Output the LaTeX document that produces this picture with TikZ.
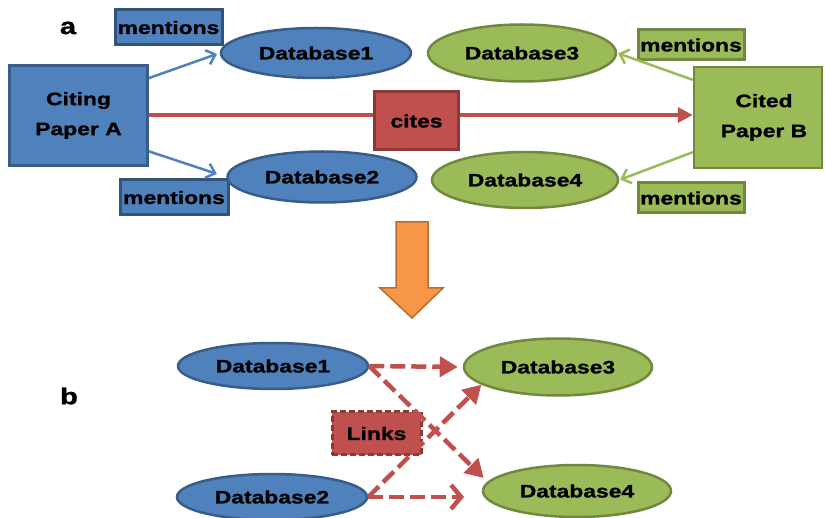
\documentclass[tikz,border=0pt]{standalone}
\usepackage{fontspec}
\newfontfamily\lbl{Liberation Sans}[FakeStretch=1.27,FakeBold=1.2]
\usetikzlibrary{arrows.meta,shapes.geometric,calc}
\definecolor{bfill}{HTML}{4F81BD}
\definecolor{bdraw}{HTML}{385D8A}
\definecolor{gfill}{HTML}{9BBB59}
\definecolor{gdraw}{HTML}{71893F}
\definecolor{rfill}{HTML}{C0504D}
\definecolor{rdraw}{HTML}{8C3836}
\definecolor{ofill}{HTML}{F79646}
\definecolor{odraw}{HTML}{B66D31}
\tikzset{
  txt/.style={font={\lbl\bfseries\fontsize{18}{30}\selectfont}, text=black, inner sep=0pt},
  bluebox/.style={txt, rectangle, fill=bfill, draw=bdraw, line width=2.5pt, align=center},
  greenbox/.style={txt, rectangle, fill=gfill, draw=gdraw, line width=2.5pt, align=center},
  bment/.style={bluebox, line width=3pt, draw=bdraw!90!black},
  gment/.style={greenbox, line width=3pt},
  bell/.style={txt, ellipse, fill=bfill, draw=bdraw, line width=2.5pt},
  gell/.style={txt, ellipse, fill=gfill, draw=gdraw, line width=2.5pt},
  redbox/.style={txt, rectangle, fill=rfill, draw=rdraw, line width=3pt},
  bigletter/.style={font={\lbl\bfseries\fontsize{23}{26}\selectfont}, inner sep=0pt},
  barr/.style={draw=bfill, line width=2.5pt, -{Straight Barb[length=8pt,width=15pt]}},
  garr/.style={draw=gfill, line width=2.5pt, -{Straight Barb[length=8pt,width=15pt]}},
  rarr/.style={draw=rfill, line width=3.5pt, -{Triangle[length=15pt,width=15pt]}},
  dasharr/.style={draw=rfill, line width=4.5pt, dash pattern=on 15pt off 6pt, -{Triangle[length=18pt,width=20pt]}},
  dashopen/.style={draw=rfill, line width=4.5pt, dash pattern=on 15pt off 6pt, -{Straight Barb[length=10pt,width=24pt]}}
}
\begin{document}
\begin{tikzpicture}[x=1pt,y=-1pt]
\useasboundingbox (0,0) rectangle (825,518);
% ---------- part a ----------
\node[bigletter] (la) at (68,28) {a};
\node[bluebox, minimum width=138pt, minimum height=100pt] (cit) at (78.5,115.5) {Citing\\Paper A};
\node[greenbox, minimum width=128pt, minimum height=101pt] (cited) at (758,117.5) {\hspace{12pt}Cited\\\hspace{12pt}Paper B};
\node[bment, minimum width=107pt, minimum height=35pt] (m1) at (168.5,27.5) {mentions};
\node[bment, minimum width=108pt, minimum height=35pt] (m2) at (174,197.5) {mentions};
\node[gment, minimum width=106pt, minimum height=30pt] (m3) at (691,45) {mentions};
\node[gment, minimum width=106pt, minimum height=30pt] (m4) at (691,198) {mentions};
\node[bell, minimum width=190pt, minimum height=50pt] (db1) at (316,53) {Database1};
\node[bell, minimum width=189pt, minimum height=51pt] (db2) at (322,177) {Database2};
\node[gell, minimum width=188pt, minimum height=57pt] (db3) at (522,53) {Database3};
\node[gell, minimum width=186pt, minimum height=56pt] (db4) at (525,180) {Database4};
\draw[rarr] (cit.east |- 0,115) -- (cited.west |- 0,115);
\node[redbox, minimum width=84pt, minimum height=58pt] (cites) at (416.5,121) {cites};
\draw[barr, shorten >=3pt] (cit.28) -- (db1.west);
\draw[barr, shorten >=10pt] (cit.-27) -- (db2.west);
\draw[garr, shorten >=1pt] (cited.150) -- (db3.east);
\draw[garr, shorten >=1pt] (cited.208) -- (db4.east);
% ---------- big arrow ----------
\draw[fill=ofill, draw=odraw, line width=1.5pt, line join=miter]
  (396,222) -- (428,222) -- (428,288) -- (443,288) -- (412,318) -- (380,288) -- (396,288) -- cycle;
% ---------- part b ----------
\node[bigletter] (lb) at (69,396) {b};
\node[bell, minimum width=190pt, minimum height=46pt] (bd1) at (273,366) {Database1};
\node[gell, minimum width=188pt, minimum height=57pt] (bd3) at (558,367) {Database3};
\node[bell, minimum width=190pt, minimum height=46pt] (bd2) at (272,497) {Database2};
\node[gell, minimum width=188pt, minimum height=52pt] (bd4) at (577,491) {Database4};
\node[redbox, draw=rdraw, line width=3pt, dash pattern=on 6pt off 3pt, minimum width=89pt, minimum height=43pt] (links) at (376.5,433.5) {Links};
\coordinate (open) at (464,497);
\draw[dasharr, shorten >=5pt] (bd1.east) -- (bd3.west);
\draw[dasharr] (bd1.east) -- ($(bd4.west)+(2,-13)$);
\draw[dasharr] (bd2.east) -- (bd3.193);
\draw[dashopen] (bd2.east) -- (open);
\end{tikzpicture}
\end{document}
